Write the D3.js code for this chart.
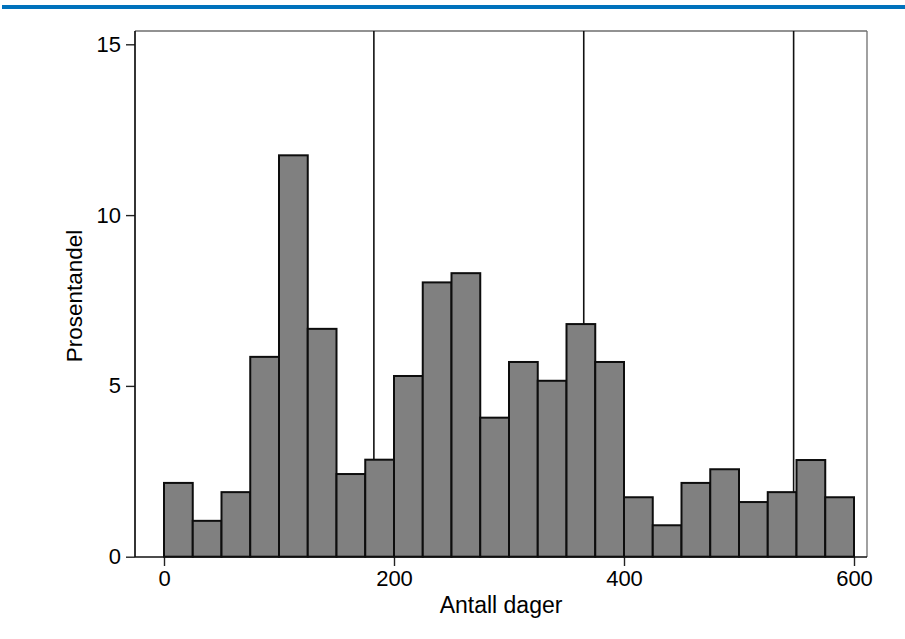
<!DOCTYPE html>
<html>
<head>
<meta charset="utf-8">
<script src="https://cdn.jsdelivr.net/npm/d3@7"></script>
<style>
  html, body { margin: 0; padding: 0; background: #fff; }
  svg { display: block; }
  text { font-family: Arial, "Liberation Sans", sans-serif; fill: #000; }
</style>
</head>
<body>
<svg id="chart" width="905" height="639"></svg>
<script>
// Histogram bins (days), width 25
const binStarts = [0, 25, 50, 75, 100, 125, 150, 175, 200, 225, 250, 275,
                   300, 325, 350, 375, 400, 425, 450, 475, 500, 525, 550, 575];
const binWidth = 25;
const percents = [2.16, 1.05, 1.89, 5.85, 11.75, 6.67, 2.42, 2.84, 5.29, 8.03, 8.30, 4.07,
                  5.70, 5.15, 6.81, 5.70, 1.74, 0.92, 2.16, 2.56, 1.60, 1.89, 2.83, 1.74];
const refLines = [182.5, 365, 547.5];
const xTicks = [0, 200, 400, 600];
const yTicks = [0, 5, 10, 15];
const xTitle = "Antall dager";
const yTitle = "Prosentandel";

(function () {
const svg = d3.select("#chart");

// top blue band
svg.append("rect").attr("x", 2).attr("y", 5).attr("width", 903).attr("height", 4)
  .attr("fill", "#0072bc");

const pL = 135, pR = 867, pT = 31, pB = 557;

const x = d3.scaleLinear().domain([0, 600]).range([164, 854]);
const y = d3.scaleLinear().domain([0, 15]).range([556.7, 44.3]);

// plot region outline (top/right lighter)
svg.append("line").attr("x1", pL).attr("x2", pR).attr("y1", pT).attr("y2", pT)
  .attr("stroke", "#6e6e6e").attr("stroke-width", 1.3);
svg.append("line").attr("x1", pR).attr("x2", pR).attr("y1", pT).attr("y2", pB)
  .attr("stroke", "#6e6e6e").attr("stroke-width", 1.3);

// reference lines (behind bars)
svg.append("g").selectAll("line").data(refLines).join("line")
  .attr("x1", d => x(d)).attr("x2", d => x(d))
  .attr("y1", pT).attr("y2", y(0))
  .attr("stroke", "#111").attr("stroke-width", 1.6);

// bars
svg.append("g").selectAll("rect").data(binStarts).join("rect")
  .attr("x", d => x(d))
  .attr("width", d => x(d + binWidth) - x(d))
  .attr("y", (d, i) => y(percents[i]))
  .attr("height", (d, i) => y(0) - y(percents[i]))
  .attr("fill", "#808080")
  .attr("stroke", "#0d0d0d")
  .attr("stroke-width", 2);

// y axis
const yAxis = d3.axisLeft(y).tickValues(yTicks).tickSize(9).tickPadding(5).tickFormat(d3.format("d"));
const gy = svg.append("g").attr("transform", `translate(${pL},0)`).call(yAxis);
gy.select(".domain").remove();
gy.selectAll(".tick line").attr("stroke", "#222").attr("stroke-width", 1.4);
gy.selectAll(".tick text").attr("font-size", 22).attr("font-family", "Arial, 'Liberation Sans', sans-serif");
svg.append("line").attr("x1", pL).attr("x2", pL).attr("y1", pT).attr("y2", pB)
  .attr("stroke", "#111").attr("stroke-width", 1.7);

// x axis
const xAxis = d3.axisBottom(x).tickValues(xTicks).tickSize(9).tickPadding(4).tickFormat(d3.format("d"));
const gx = svg.append("g").attr("transform", `translate(0,${pB})`).call(xAxis);
gx.select(".domain").remove();
gx.selectAll(".tick line").attr("stroke", "#222").attr("stroke-width", 1.4);
gx.selectAll(".tick text").attr("font-size", 22).attr("font-family", "Arial, 'Liberation Sans', sans-serif");
svg.append("line").attr("x1", pL).attr("x2", pR).attr("y1", pB).attr("y2", pB)
  .attr("stroke", "#111").attr("stroke-width", 1.7);

// titles
svg.append("text").attr("x", (pL + pR) / 2).attr("y", 613)
  .attr("text-anchor", "middle").attr("font-size", 23).text(xTitle);
svg.append("text")
  .attr("transform", `translate(82,${296}) rotate(-90)`)
  .attr("text-anchor", "middle").attr("font-size", 22.5).text(yTitle);
})();
</script>
</body>
</html>
